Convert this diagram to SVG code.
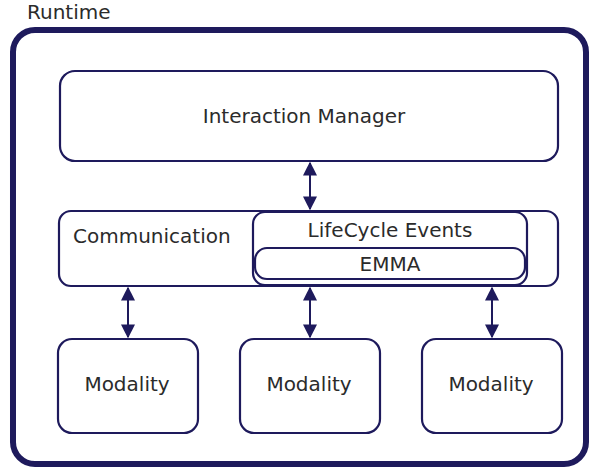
<svg xmlns="http://www.w3.org/2000/svg" width="597" height="469" viewBox="0 0 597 469">
<style>
.box{fill:#fff;stroke:#1e1a5c;stroke-width:2.2}
.outer{fill:#fff;stroke:#1e1a5c;stroke-width:6}
.t{font-family:"DejaVu Sans",Verdana,sans-serif;font-size:20px;fill:#2b2b2b}
.c{stroke:#1e1a5c;stroke-width:2;fill:none;marker-start:url(#ah);marker-end:url(#ah)}
</style>
<defs>
<marker id="ah" viewBox="0 0 10 10" refX="9" refY="5" markerWidth="7" markerHeight="7" orient="auto-start-reverse" markerUnits="strokeWidth">
<path d="M0,0 L10,5 L0,10 z" fill="#1e1a5c"/>
</marker>
</defs>
<text class="t" x="27" y="19" font-size="19">Runtime</text>
<g id="runtime"><rect class="outer" x="13" y="30" width="573" height="434" rx="22"/></g>
<g id="interaction-manager">
<rect class="box" x="60" y="71" width="498" height="90" rx="15"/>
<text class="t" x="304" y="123" text-anchor="middle">Interaction Manager</text>
</g>
<g id="communication">
<rect class="box" x="59" y="211" width="499" height="75" rx="12"/>
<text class="t" x="73" y="243">Communication</text>
</g>
<g id="lifecycle">
<rect class="box" x="253" y="212" width="274" height="73" rx="12"/>
<text class="t" x="390" y="237" text-anchor="middle">LifeCycle Events</text>
</g>
<g id="emma">
<rect class="box" x="255" y="248" width="270" height="31" rx="12"/>
<text class="t" x="390" y="271" text-anchor="middle" font-size="18">EMMA</text>
</g>
<g id="modality1"><rect class="box" x="58" y="339" width="140" height="94" rx="14"/><text class="t" x="127" y="391" text-anchor="middle">Modality</text></g>
<g id="modality2"><rect class="box" x="240" y="339" width="140" height="94" rx="14"/><text class="t" x="309" y="391" text-anchor="middle">Modality</text></g>
<g id="modality3"><rect class="box" x="422" y="339" width="140" height="94" rx="14"/><text class="t" x="491" y="391" text-anchor="middle">Modality</text></g>
<g id="connectors">
<line class="c" x1="310" y1="163" x2="310" y2="209"/>
<line class="c" x1="128" y1="288" x2="128" y2="337"/>
<line class="c" x1="310" y1="288" x2="310" y2="337"/>
<line class="c" x1="492" y1="288" x2="492" y2="337"/>
</g>
</svg>
